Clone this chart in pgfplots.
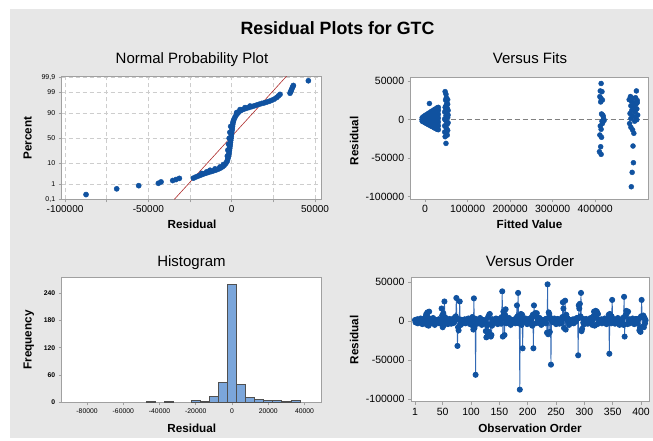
\documentclass[border=0pt]{standalone}
\usepackage{fontspec}
\setmainfont{Liberation Sans}
\usepackage{pgfplots}
\usepackage{pgfplotstable}
\pgfplotsset{compat=1.18}
\definecolor{bggray}{RGB}{231,231,231}
\definecolor{framegray}{RGB}{160,160,160}
\definecolor{dotblue}{RGB}{16,82,160}
\definecolor{lineblue}{RGB}{50,105,180}
\definecolor{histfill}{RGB}{123,166,219}
\definecolor{histedge}{RGB}{80,80,80}
\definecolor{fitred}{RGB}{175,45,45}
\definecolor{gridgray}{RGB}{205,205,205}
\pgfplotsset{
 mini/.style={
  scale only axis, anchor=south west,
  axis background/.style={fill=white},
  axis line style={draw=framegray, line width=0.9pt},
  tick style={draw=framegray, line width=0.6pt},
  tick align=outside, major tick length=3pt,
  tick pos=left, scaled ticks=false,
  ticklabel style={text=black},
 },
 dots/.style={only marks, mark=*, mark size=2.6pt, mark options={fill=dotblue, draw=dotblue}},
}
\pgfplotstableread[row sep=\\]{
v\\
1200\\ -1800\\ 600\\ -900\\ 2200\\ -3000\\ 500\\ -1400\\ 1600\\ -600\\
3200\\ -2200\\ 900\\ -4000\\ 1300\\ -300\\ 2600\\ -1000\\ 300\\
6000\\ 9000\\ -5000\\ 11000\\ 4000\\ -6000\\ 12000\\ 3000\\
-3500\\ 1900\\ -1500\\ 700\\ -2600\\ 3800\\ -500\\ 1000\\ -5000\\ 1500\\ -1900\\
1200\\ -1800\\ 600\\ -900\\ 2200\\ -3000\\ 500\\ -1400\\ 1600\\
16000\\ 7000\\ -8000\\ 10000\\ -5000\\ 25000\\ 5000\\
-600\\ 3200\\ -2200\\ 900\\ -4000\\ 1300\\ -300\\ 2600\\ -1000\\ 300\\ -3500\\ 1900\\ -1500\\ 700\\ -2600\\ 3800\\ -500\\ 1000\\
6000\\ 29500\\ 3000\\ -32000\\ -8000\\ -12000\\ 2000\\ 25000\\ -4000\\
-5000\\ 1500\\ -1900\\
1200\\ -1800\\ 600\\ -900\\ 2200\\ -3000\\ 500\\ -1400\\ 1600\\ -600\\ 3200\\ -2200\\ 900\\ -4000\\ 1300\\ -300\\ 2600\\
5000\\ -6000\\ -11000\\ 29000\\ -9000\\ 3000\\ -69000\\
-1000\\ 300\\ -3500\\ 1900\\ -1500\\ 700\\ -2600\\ 3800\\ -500\\ 1000\\ -5000\\ 1500\\ -1900\\
1200\\ -1800\\ 600\\ -900\\
-13000\\ -21000\\ -6000\\ -19000\\ 5000\\ -14000\\ 8000\\ 9000\\ -4000\\ -20000\\ -18000\\ -6000\\
2200\\ -3000\\ 500\\ -1400\\ 1600\\ -600\\ 3200\\ -2200\\ 900\\ -4000\\ 1300\\ -300\\ 2600\\ -1000\\ 300\\ -3500\\
5000\\ 38000\\ -20000\\ 12000\\ 3000\\ -18000\\ 8000\\ 15000\\ -3000\\
1900\\ -1500\\ 700\\ -2600\\ 3800\\ -500\\ 1000\\ -5000\\ 1500\\ -1900\\
1200\\ -1800\\ 600\\ -900\\ 2200\\ -3000\\ 500\\
4000\\ 20000\\ 6000\\ 36000\\ -3000\\ 3000\\ -88000\\ 2000\\ 9000\\ -5000\\ 8000\\ -35000\\ 2000\\
-1400\\ 1600\\ -600\\ 3200\\ -2200\\ 900\\ -4000\\ 1300\\ -300\\ 2600\\ -1000\\ 300\\ -3500\\ 1900\\
5000\\ -6000\\ 8000\\ -35000\\ 20000\\ 7000\\ 10000\\ -3000\\ 6000\\ 10000\\ 3000\\
-1500\\ 700\\ -2600\\ 3800\\ -500\\ 1000\\ -5000\\ 1500\\ -1900\\
1200\\ -1800\\ 600\\ -900\\ 2200\\ -3000\\
3000\\ -15000\\ 47000\\ -17000\\ 11000\\ 9000\\ -14000\\ 4000\\ -56000\\ 2000\\
500\\ -1400\\ 1600\\ -600\\ 3200\\ -2200\\ 900\\ -4000\\ 1300\\ -300\\ 2600\\ -1000\\ 300\\ -3500\\ 1900\\ -1500\\ 700\\ -2600\\
5000\\ 24000\\ 16000\\ -9000\\ 4000\\ 26000\\ -11000\\ 8000\\ 3000\\
3800\\ -500\\ 1000\\ -5000\\ 1500\\ -1900\\
1200\\ -1800\\ 600\\ -900\\ 2200\\ -3000\\ 500\\ -1400\\ 1600\\ -600\\ 3200\\
4000\\ 3000\\ -44000\\ 20000\\ 16000\\ 22000\\ 6000\\ 36000\\ -13000\\ -10000\\ 3000\\
-2200\\ 900\\ -4000\\ 1300\\ -300\\ 2600\\ -1000\\ 300\\ -3500\\ 1900\\ -1500\\ 700\\ -2600\\ 3800\\ -500\\ 1000\\ -5000\\ 1500\\
6000\\ 12000\\ -6000\\ 8000\\ 13000\\ 5000\\ 12000\\ -4000\\ 9000\\
-1900\\
1200\\ -1800\\ 600\\ -900\\ 2200\\ -3000\\ 500\\ -1400\\ 1600\\ -600\\ 3200\\ -2200\\ 900\\ -4000\\ 1300\\ -300\\
3000\\ 8000\\ -42000\\ 9000\\ 5000\\ -3000\\ 6000\\ 27000\\ 2000\\
2600\\ -1000\\ 300\\ -3500\\ 1900\\ -1500\\ 700\\ -2600\\ 3800\\ -500\\ 1000\\ -5000\\ 1500\\ -1900\\
1200\\ -1800\\ 600\\
4000\\ -5000\\ 31000\\ -20000\\ 6000\\ 8000\\ 13000\\ 10000\\ -4000\\ 12000\\
-900\\ 2200\\ -3000\\ 500\\ -1400\\ 1600\\ -600\\ 3200\\ -2200\\ 900\\ -4000\\ 1300\\ -300\\ 2600\\ -1000\\ 300\\ -3500\\ 1900\\
3000\\ -12000\\ -9000\\ -14000\\ 6000\\ 27000\\ 5000\\ -7000\\ 7000\\ -8000\\ 4000\\ -3000\\ 1000\\
}\ordertable
\begin{document}
\begin{tikzpicture}
\useasboundingbox (0,0) rectangle (653pt,440pt);
\fill[white] (0,0) rectangle (653pt,440pt);
\fill[bggray] (10pt,2pt) rectangle (653pt,431pt);

% Normal probability plot
\begin{axis}[mini, at={(61.7pt,240.7pt)}, width=260pt, height=123.3pt,
  xmin=-102000, xmax=54000, ymin=-3.0902, ymax=3.15,
  xtick={-100000,-75000,-50000,-25000,0,25000,50000},
  xticklabels={-100000,,-50000,,0,,50000},
  ytick={-3.0902,-2.3263,-1.2816,0,1.2816,2.3263,3.0902},
  yticklabels={{0,1},1,10,50,90,99,{99,9}},
  xticklabel style={font=\fontsize{10}{12}\selectfont},
  yticklabel style={font=\fontsize{7}{8}\selectfont},
  grid=major, major grid style={gridgray, dash pattern=on 4pt off 3pt, line width=0.6pt}]
\addplot[dots] coordinates {
(-87400,-2.85) (-69000,-2.56) (-55800,-2.40) (-44000,-2.28) (-42400,-2.21) (-35400,-2.14) (-33400,-2.09) (-31400,-2.03)
(-23000,-2.02) (-21500,-1.96) (-20000,-1.91) (-18500,-1.86) (-17000,-1.81) (-15500,-1.77) (-14000,-1.73) (-12500,-1.69)
(-11000,-1.65) (-9500,-1.61) (-8000,-1.56) (-6800,-1.51) (-5600,-1.45) (-4600,-1.38) (-3800,-1.30) (-3000,-1.21)
(-13000,-1.62) (-10000,-1.55) (-7000,-1.45) (-5000,-1.33) (-15000,-1.70) (-18000,-1.78)
(-2600,-1.12) (-2200,-1.01) (-1900,-0.90) (-1700,-0.80) (-1500,-0.70) (-1350,-0.60) (-1200,-0.50) (-1050,-0.40)
(-900,-0.30) (-750,-0.20) (-600,-0.10) (-450,0.0) (-300,0.10) (-150,0.20) (0,0.30) (150,0.40) (300,0.50)
(450,0.60) (600,0.70) (800,0.80) (1000,0.87)
(-2600,-0.9) (-2300,-0.6) (-1900,-0.3) (-1500,0.0) (-1100,0.3) (-600,0.6)
(1400,0.96) (2000,1.07) (2700,1.17) (3400,1.25) (4200,1.32) (5200,1.39) (6200,1.44) (7500,1.48) (9000,1.52)
(10500,1.56) (12000,1.60) (13500,1.64) (15000,1.68) (16500,1.72) (18000,1.76) (19500,1.79) (21000,1.83)
(22500,1.87) (24000,1.92) (25500,1.98) (27000,2.06) (28000,2.14) (29000,2.22)
(3000,1.30) (5000,1.45) (8000,1.55) (11000,1.63)
(35000,2.28) (35400,2.36) (35800,2.44) (36200,2.52) (36600,2.60) (37000,2.67) (46000,2.91)
};
\addplot[fitred, line width=0.6pt] coordinates {(-34400,-3.0902) (33000,3.15)};
\end{axis}

% Versus fits
\begin{axis}[mini, at={(410.7pt,241pt)}, width=237.6pt, height=121.7pt,
  xmin=-34000, xmax=525000, ymin=-103000, ymax=55000,
  xtick={0,100000,200000,300000,400000},
  xticklabels={0,100000,200000,300000,400000},
  ytick={-100000,-50000,0,50000},
  yticklabels={-100000,-50000,0,50000},
  ticklabel style={font=\fontsize{10.5}{12}\selectfont}]
\addplot[gray, dash pattern=on 5pt off 3pt, line width=0.7pt, forget plot] coordinates {(-34000,0) (525000,0)};
\addplot[dots, mark size=2.5pt] coordinates {
(-7000,-2000) (-7000,0) (-7000,2500)
(-3500,-3000) (-3500,-500) (-3500,2000) (-3500,4200)
(0,-4100) (0,-1500) (0,1000) (0,3500) (0,5400)
(3500,-5200) (3500,-2500) (3500,0) (3500,2500) (3500,5000) (3500,6700)
(7000,-6200) (7000,-3500) (7000,-1000) (7000,1500) (7000,4000) (7000,6500) (7000,7900)
(10500,-7300) (10500,-4500) (10500,-1800) (10500,1000) (10500,3800) (10500,6500) (10500,9100)
(14000,-8300) (14000,-5500) (14000,-2500) (14000,500) (14000,3500) (14000,6500) (14000,8800) (14000,10400)
(17500,-9300) (17500,-6300) (17500,-3300) (17500,-300) (17500,2700) (17500,5700) (17500,8700) (17500,11600)
(21000,-10400) (21000,-7300) (21000,-4200) (21000,-1000) (21000,2000) (21000,5000) (21000,8000) (21000,10500) (21000,12800)
(24500,-11400) (24500,-8000) (24500,-4500) (24500,-1000) (24500,2500) (24500,6000) (24500,9500) (24500,12000) (24500,14000)
(28000,-12500) (28000,-9000) (28000,-5000) (28000,-1000) (28000,3000) (28000,7000) (28000,11000) (28000,15300)
(31000,-13000) (31000,-8000) (31000,-3000) (31000,2000) (31000,7000) (31000,12000) (31000,16000)
(10000,21000)
(47000,36400) (49000,33000) (50000,28700) (48000,25600) (51000,21300) (49000,18200) (52000,14800) (48000,11300)
(51000,8200) (49000,5300) (53000,2600) (47000,-300) (50000,-2600) (52000,-6000) (48000,-9100) (51000,-12100)
(49000,-15600) (50000,-19000) (47000,-22100) (49000,-30800)
(53000,20000) (54000,12000) (54000,6000) (46000,1000) (54000,-4000) (46000,-8000) (53000,-14000) (52000,-20000)
(46000,10000) (47000,16000) (53000,26000) (46000,-16000)
(414000,47000) (412000,37300) (416000,36400) (411000,29900) (414000,27300) (417000,25500) (413000,23000)
(415000,7400) (418000,5800) (420000,1000) (416000,-2000) (412000,-8200) (414000,-12500) (411000,-19900)
(415000,-22900) (413000,-35100) (410000,-41600) (414000,-45000) (419000,4000) (421000,-1000) (417000,-5000)
(497000,37300) (483000,30000) (487000,28000) (495000,28500) (499000,25000) (485000,24000) (492000,22000)
(496000,20000) (484000,18000) (490000,16000) (498000,14000) (486000,12000) (494000,10000) (482000,8000)
(500000,6000) (488000,5000) (495000,3000) (484000,1500) (498000,0) (493000,-2000) (484000,-9900)
(488000,-13300) (491000,-17700) (489000,-34200) (490000,-55900) (487000,-68400) (485000,-87100)
(481000,-5000) (499000,22000) (480000,26000)
};
\end{axis}

% Histogram
\begin{axis}[mini, at={(61.7pt,37.7pt)}, width=260pt, height=124.6pt,
  xmin=-94000, xmax=49500, ymin=0, ymax=274,
  xtick={-80000,-60000,-40000,-20000,0,20000,40000},
  xticklabels={-80000,-60000,-40000,-20000,0,20000,40000},
  ytick={0,60,120,180,240}, yticklabels={0,60,120,180,240},
  xticklabel style={font=\fontsize{6.8}{8}\selectfont},
  yticklabel style={font=\bfseries\fontsize{6.8}{8}\selectfont}]
\addplot[ybar, bar width=5000, fill=histfill, draw=histedge, line width=0.7pt] coordinates {
(-45000,1) (-35000,1) (-20000,4) (-15000,1) (-10000,12) (-5000,44)
(0,260) (5000,40) (10000,10) (15000,7) (20000,4) (25000,4) (30000,2) (35000,4)
};
\end{axis}

% Versus order
\begin{axis}[mini, at={(411pt,38.3pt)}, width=238pt, height=124pt,
  xmin=-6, xmax=414, ymin=-103500, ymax=55500,
  xtick={1,50,100,150,200,250,300,350,400},
  xticklabels={1,50,100,150,200,250,300,350,400},
  ytick={-100000,-50000,0,50000},
  yticklabels={-100000,-50000,0,50000},
  ticklabel style={font=\fontsize{10.5}{12}\selectfont}]
\addplot[lineblue, line width=0.8pt, mark=*, mark size=2.6pt, mark options={fill=dotblue, draw=dotblue, solid}]
  table[x expr=\coordindex+1, y=v] {\ordertable};
\end{axis}

% Titles and labels
\node[anchor=base, font=\bfseries\fontsize{17.8}{20}\selectfont] at (337.5pt,405.7pt) {Residual Plots for GTC};
\node[anchor=base, font=\fontsize{15}{18}\selectfont] at (192pt,376.7pt) {Normal Probability Plot};
\node[anchor=base, font=\fontsize{15}{18}\selectfont] at (530pt,376.7pt) {Versus Fits};
\node[anchor=base, font=\fontsize{15}{18}\selectfont] at (191.5pt,174pt) {Histogram};
\node[anchor=base, font=\fontsize{15}{18}\selectfont] at (530pt,174pt) {Versus Order};
\node[anchor=base, font=\bfseries\fontsize{11.7}{14}\selectfont] at (192pt,212pt) {Residual};
\node[anchor=base, font=\bfseries\fontsize{11.7}{14}\selectfont] at (529.5pt,212pt) {Fitted Value};
\node[anchor=base, font=\bfseries\fontsize{11.7}{14}\selectfont] at (191.7pt,7.3pt) {Residual};
\node[anchor=base, font=\bfseries\fontsize{11.7}{14}\selectfont] at (530pt,7.3pt) {Observation Order};
\node[anchor=base, rotate=90, font=\bfseries\fontsize{11.7}{14}\selectfont] at (31.7pt,302pt) {Percent};
\node[anchor=base, rotate=90, font=\bfseries\fontsize{11.7}{14}\selectfont] at (358.3pt,299pt) {Residual};
\node[anchor=base, rotate=90, font=\bfseries\fontsize{11.7}{14}\selectfont] at (31.7pt,100pt) {Frequency};
\node[anchor=base, rotate=90, font=\bfseries\fontsize{11.7}{14}\selectfont] at (358.3pt,100pt) {Residual};
\end{tikzpicture}
\end{document}
